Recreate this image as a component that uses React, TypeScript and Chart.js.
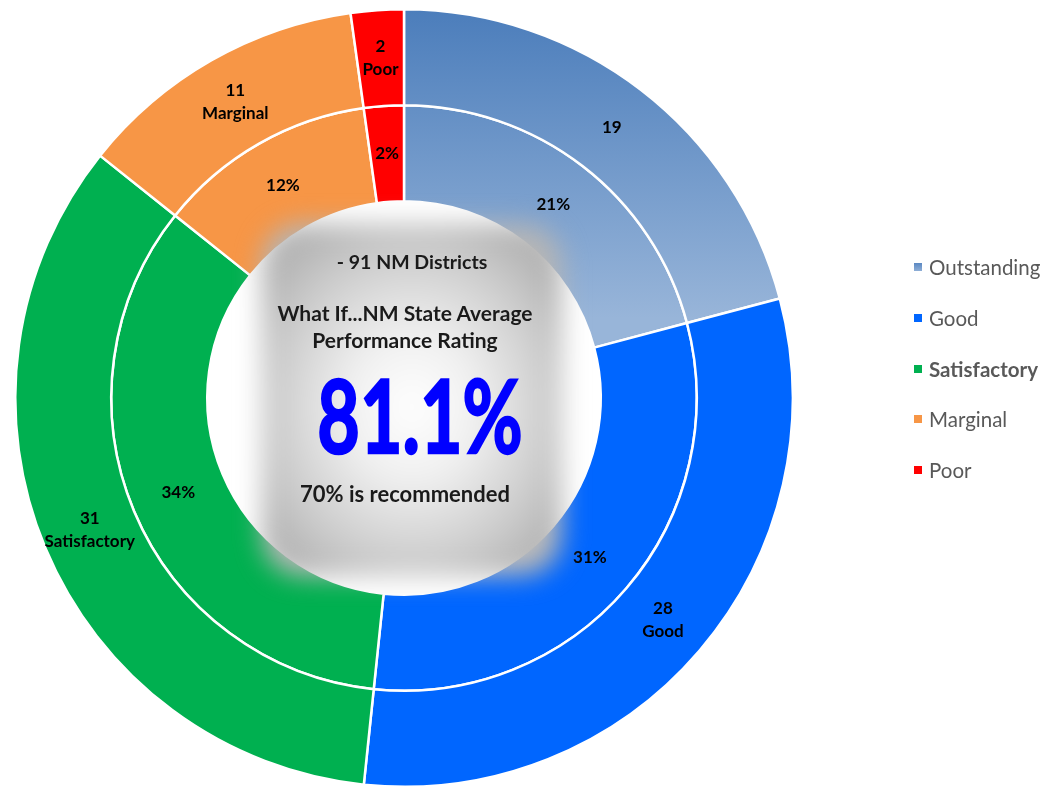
import React, { useEffect, useRef } from "react";
import { Chart, registerables } from "chart.js";

Chart.register(...registerables);

const categories = ["Outstanding", "Good", "Satisfactory", "Marginal", "Poor"];
const districtCounts = [19, 28, 31, 11, 2];
const percentShares = [20.9, 30.8, 34.1, 12.1, 2.2];
const outerShowName = [false, true, true, true, true];
const colors = ["#6f95c9", "#0066ff", "#00b050", "#f79646", "#ff0000"];
const legendBold = [false, false, true, false, false];

const centerLines = {
  districts: "- 91 NM Districts",
  title1: "What If...NM State Average",
  title2: "Performance Rating",
  big: "81.1%",
  note: "70% is recommended",
};

const LABEL_FONT = "Lato, 'DejaVu Sans', sans-serif";

function outstandingGradient(ctx: any) {
  const chart = ctx.chart;
  const area = chart.chartArea;
  if (!area) return colors[0];
  const g = chart.ctx.createLinearGradient(0, area.top, 0, area.top + 310);
  g.addColorStop(0, "#4b7dbb");
  g.addColorStop(1, "#98b5d9");
  return g;
}

function bg(ctx: any) {
  if (ctx.dataIndex === 0) return outstandingGradient(ctx);
  return colors[ctx.dataIndex];
}

const labelPlugin = {
  id: "ringLabels",
  afterDatasetsDraw(chart: any) {
    const c = chart.ctx;
    c.save();
    c.fillStyle = "#000";
    c.textAlign = "center";
    c.textBaseline = "middle";
    c.font = `bold 17px ${LABEL_FONT}`;
    chart.data.datasets.forEach((ds: any, di: number) => {
      const meta = chart.getDatasetMeta(di);
      meta.data.forEach((arc: any, i: number) => {
        const p = arc.tooltipPosition();
        let lines: string[];
        if (di === 0) {
          lines = [String(ds.data[i])];
          if (outerShowName[i]) lines.push(categories[i]);
        } else {
          lines = [Math.round(ds.data[i]) + "%"];
        }
        const lh = 23;
        const y0 = p.y - ((lines.length - 1) * lh) / 2;
        lines.forEach((t, k) => c.fillText(t, p.x, y0 + k * lh));
      });
    });
    c.restore();
  },
};

export default function App() {
  const ref = useRef<HTMLCanvasElement | null>(null);
  useEffect(() => {
    if (!ref.current) return;
    const chart = new Chart(ref.current, {
      type: "doughnut",
      data: {
        labels: categories,
        datasets: [
          { data: districtCounts, backgroundColor: bg, borderColor: "#ffffff", borderWidth: 2.5 },
          { data: percentShares, backgroundColor: bg, borderColor: "#ffffff", borderWidth: 2.5 },
        ],
      },
      options: {
        animation: false,
        responsive: false,
        cutout: "50.6%",
        layout: { padding: { left: 13, top: 8, right: 250, bottom: 0 } },
        plugins: { legend: { display: false }, tooltip: { enabled: false } },
      },
      plugins: [labelPlugin],
    });
    return () => chart.destroy();
  }, []);

  const txt: React.CSSProperties = {
    position: "absolute",
    transform: "translate(-50%, -50%)",
    whiteSpace: "nowrap",
    fontFamily: LABEL_FONT,
    fontWeight: 700,
    color: "#1a1a1a",
    fontSize: 17,
  };

  return (
    <div style={{ position: "relative", width: 1045, height: 788, background: "#fff", overflow: "hidden" }}>
      <style>{`body{margin:0}`}</style>
      <canvas ref={ref} width={1045} height={788} style={{ position: "absolute", left: 0, top: 0 }} />
      <div
        style={{
          position: "absolute",
          left: 262,
          top: 224,
          width: 300,
          height: 352,
          borderRadius: 40,
          background:
            "radial-gradient(ellipse 60% 58% at 50% 52%, #ffffff 0%, #f0f0f0 35%, #cdcdcd 75%, #b4b4b4 100%)",
          filter: "blur(13px)",
        }}
      />
      <div style={{ ...txt, left: 412, top: 261, fontSize: 19.5 }}>{centerLines.districts}</div>
      <div style={{ ...txt, left: 405, top: 312, fontSize: 21 }}>{centerLines.title1}</div>
      <div style={{ ...txt, left: 405, top: 339, fontSize: 21 }}>{centerLines.title2}</div>
      <div
        style={{
          ...txt,
          left: 420,
          top: 413,
          fontSize: 102,
          color: "#0000ff",
          WebkitTextStroke: "2.5px #0000ff",
          transform: "translate(-50%, -50%) scaleX(0.72)",
        }}
      >
        {centerLines.big}
      </div>
      <div style={{ ...txt, left: 405, top: 493, fontSize: 22 }}>{centerLines.note}</div>
      {categories.map((c, i) => (
        <div
          key={c}
          style={{
            position: "absolute",
            left: 914,
            top: 267 + i * 50.8,
            transform: "translateY(-50%)",
            display: "flex",
            alignItems: "center",
            fontFamily: LABEL_FONT,
            fontSize: 20.5,
            color: "#595959",
            fontWeight: legendBold[i] ? 700 : 400,
            whiteSpace: "nowrap",
          }}
        >
          <span
            style={{
              display: "inline-block",
              width: 8,
              height: 8,
              marginRight: 7,
              background: i === 0 ? "linear-gradient(#5a88c2, #8eaed6)" : colors[i],
            }}
          />
          {c}
        </div>
      ))}
    </div>
  );
}
